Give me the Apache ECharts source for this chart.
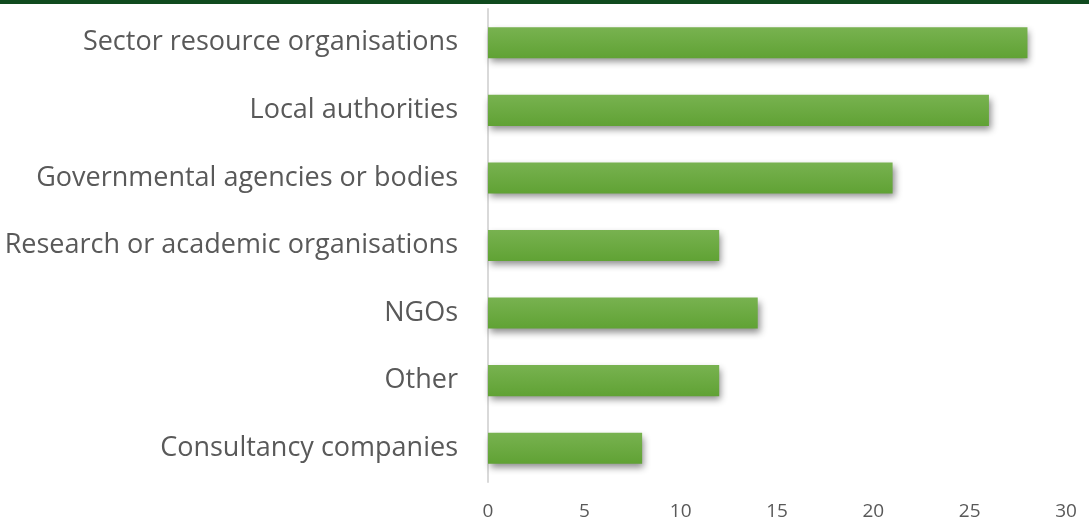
<!DOCTYPE html>
<html>
<head>
<meta charset="utf-8">
<script src="https://cdn.jsdelivr.net/npm/echarts@6/dist/echarts.min.js"></script>
<style>
  html, body { margin: 0; padding: 0; background: #fff; }
  #topbar { position: absolute; left: 0; top: 0; width: 1089px; height: 4px; background: #0f4a1e; }
  #chart { width: 1089px; height: 526px; }
</style>
</head>
<body>
<div id="topbar"></div>
<div id="chart"></div>
<script>
// Organisation types, listed top to bottom
const categories = [
  'Sector resource organisations',
  'Local authorities',
  'Governmental agencies or bodies',
  'Research or academic organisations',
  'NGOs',
  'Other',
  'Consultancy companies'
];
// Number of respondents per type
const counts = [28, 26, 21, 12, 14, 12, 8];
const xTicks = [0, 5, 10, 15, 20, 25, 30];

const chart = echarts.init(document.getElementById('chart'));
chart.setOption({
  animation: false,
  grid: { left: 488, right: 23, top: 9, bottom: 44, containLabel: false },
  xAxis: {
    type: 'value',
    min: xTicks[0],
    max: xTicks[xTicks.length - 1],
    interval: 5,
    axisLine: { show: false },
    axisTick: { show: false },
    splitLine: { show: false },
    axisLabel: {
      color: '#595959',
      fontFamily: 'Open Sans',
      fontSize: 19,
      margin: 20
    }
  },
  yAxis: {
    type: 'category',
    inverse: true,
    data: categories,
    axisLine: { show: true, lineStyle: { color: '#d9d9d9', width: 2 } },
    axisTick: { show: false },
    axisLabel: {
      color: '#595959',
      fontFamily: 'Open Sans',
      fontSize: 27,
      margin: 30
    }
  },
  series: [{
    type: 'bar',
    data: counts,
    barCategoryGap: '54%',
    itemStyle: {
      color: new echarts.graphic.LinearGradient(0, 0, 0, 1, [
        { offset: 0, color: '#78b250' },
        { offset: 1, color: '#60a234' }
      ]),
      shadowColor: 'rgba(0,0,0,0.45)',
      shadowBlur: 7,
      shadowOffsetX: 2,
      shadowOffsetY: 4
    }
  }]
});
</script>
</body>
</html>
